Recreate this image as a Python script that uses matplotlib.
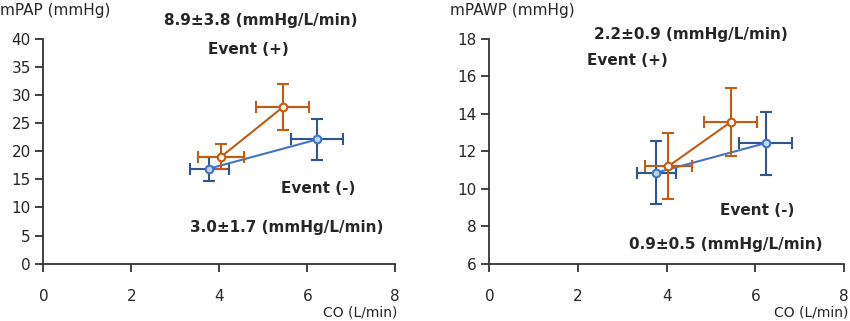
import matplotlib.pyplot as plt

# ── data ──────────────────────────────────────────────────────────────────────
co_pos = [4.04, 5.44]
co_pos_err = [0.52, 0.60]
co_neg = [3.77, 6.23]
co_neg_err = [0.44, 0.59]

mpap_pos = [19.0, 27.8]
mpap_pos_err = [2.2, 4.1]
mpap_neg = [16.9, 22.1]
mpap_neg_err = [2.15, 3.7]

mpawp_pos = [11.2, 13.55]
mpawp_pos_err = [1.77, 1.8]
mpawp_neg = [10.86, 12.43]
mpawp_neg_err = [1.68, 1.68]

slope_pos = ["8.9±3.8 (mmHg/L/min)", "2.2±0.9 (mmHg/L/min)"]
slope_neg = ["3.0±1.7 (mmHg/L/min)", "0.9±0.5 (mmHg/L/min)"]
ylabels = ["mPAP (mmHg)", "mPAWP (mmHg)"]

ORANGE = "#C55A11"
BLUE_LINE = "#4472C4"
BLUE_ERR = "#2F5597"
BLUE_FACE = "#BDD7EE"
TXT = "#262626"

plt.rcParams["font.family"] = "DejaVu Sans"

fig = plt.figure(figsize=(8.5, 3.21), dpi=100)
ax1 = fig.add_axes([0.051, 0.1785, 0.414, 0.701])
ax2 = fig.add_axes([0.5757, 0.1785, 0.4173, 0.701])


def draw(ax, ypos, ypos_err, yneg, yneg_err):
    ax.errorbar(co_neg, yneg, xerr=co_neg_err, yerr=yneg_err, color=BLUE_LINE,
                ecolor=BLUE_ERR, elinewidth=1.5, capsize=4, capthick=1.5,
                lw=1.5, marker="o", ms=5.5, mfc=BLUE_FACE, mec=BLUE_LINE, mew=1.5,
                zorder=3)
    ax.errorbar(co_pos, ypos, xerr=co_pos_err, yerr=ypos_err, color=ORANGE,
                ecolor=ORANGE, elinewidth=1.5, capsize=4, capthick=1.5,
                lw=1.5, marker="o", ms=5.5, mfc="#FFF5EE", mec=ORANGE, mew=1.5,
                zorder=4)
    for s in ["top", "right"]:
        ax.spines[s].set_visible(False)
    for s in ["left", "bottom"]:
        ax.spines[s].set_linewidth(1.3)
        ax.spines[s].set_color("#333333")
    ax.set_xlim(0, 8)
    ax.set_xticks([0, 2, 4, 6, 8])
    ax.tick_params(axis="x", direction="out", length=6, width=1.3, pad=12,
                   labelsize=11, colors="#333333", labelcolor=TXT)
    ax.tick_params(axis="y", direction="out", length=6, width=1.3, pad=3,
                   labelsize=11, colors="#333333", labelcolor=TXT)
    ax.set_facecolor("none")


draw(ax1, mpap_pos, mpap_pos_err, mpap_neg, mpap_neg_err)
ax1.set_ylim(0, 40)
ax1.set_yticks(range(0, 41, 5))

draw(ax2, mpawp_pos, mpawp_pos_err, mpawp_neg, mpawp_neg_err)
ax2.set_ylim(6, 18)
ax2.set_yticks(range(6, 19, 2))

bold = dict(fontsize=11, fontweight="bold", color=TXT, ha="center",
            va="center", clip_on=False)
ax1.text(4.95, 43.3, slope_pos[0], **bold)
ax1.text(4.67, 38.0, "Event (+)", **bold)
ax1.text(6.24, 13.4, "Event (-)", **bold)
ax1.text(5.53, 6.35, slope_neg[0], **bold)

ax2.text(4.54, 18.2, slope_pos[1], **bold)
ax2.text(3.12, 16.81, "Event (+)", **bold)
ax2.text(6.04, 8.82, "Event (-)", **bold)
ax2.text(5.33, 7.01, slope_neg[1], **bold)

fig.text(0.0, 0.967, ylabels[0], fontsize=11, color=TXT, ha="left", va="center")
fig.text(450 / 850, 0.967, ylabels[1], fontsize=11, color=TXT, ha="left", va="center")
fig.text(397 / 850, 1 - 312 / 321, "CO (L/min)", fontsize=10, color=TXT,
         ha="right", va="center")
fig.text(848 / 850, 1 - 312 / 321, "CO (L/min)", fontsize=10, color=TXT,
         ha="right", va="center")

fig.savefig("out.png", dpi=100)
